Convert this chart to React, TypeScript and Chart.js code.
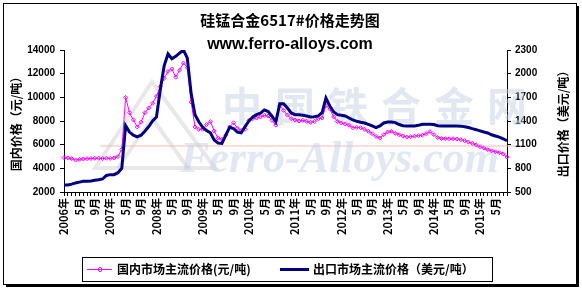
import React, { useEffect, useRef } from "react";
import { Chart, registerables } from "chart.js";

Chart.register(...registerables);

// Monthly categories: 2006-01 ... 2015-08
const START_YEAR = 2006;
const MONTH_COUNT = 116;
const categories: string[] = [];
for (let i = 0; i < MONTH_COUNT; i++) {
  const y = START_YEAR + Math.floor(i / 12);
  const m = (i % 12) + 1;
  categories.push(`${y}-${m < 10 ? "0" + m : m}`);
}

// Tick labels shown every 4 months
const tickLabels = [
  "2006年", "5月", "9月",
  "2007年", "5月", "9月",
  "2008年", "5月", "9月",
  "2009年", "5月", "9月",
  "2010年", "5月", "9月",
  "2011年", "5月", "9月",
  "2012年", "5月", "9月",
  "2013年", "5月", "9月",
  "2014年", "5月", "9月",
  "2015年", "5月",
];

// 国内市场主流价格 (元/吨)
const domesticPrice = [
  4900, 4880, 4820, 4700, 4760, 4800, 4820, 4830, 4850, 4860, 4820, 4860, 4840, 4880, 5000, 5600,
  10000, 8700, 8100, 7500, 7900, 8700, 9100, 9500, 10100, 10900, 11600, 12200, 12400, 11700, 12300, 12900, 12500, 9600, 7500, 7300,
  7300, 7700, 7950, 7150, 6550, 6450, 6800, 7500, 7850, 7400, 7200, 7300, 8050, 8200, 8250, 8350, 8480, 8420, 8050, 7650, 9300, 8900,
  8500, 8200, 8080, 8000, 8060, 7970, 7890, 7970, 8190, 8250, 9300, 9000, 8340, 7970, 7830, 7750, 7640, 7430, 7460, 7430, 7300, 7130, 6930, 6700, 6560, 6840, 7070, 7130,
  6950, 6840, 6720, 6640, 6680, 6720, 6760, 6800, 6930, 7100, 6850, 6600, 6520, 6500, 6500, 6500, 6480, 6420, 6340, 6220, 6100, 5980, 5830, 5700, 5580, 5480, 5400, 5320, 5220, 4950,
];

// 出口市场主流价格 (美元/吨)
const exportPrice = [
  590, 590, 600, 615, 625, 635, 635, 640, 648, 655, 665, 710, 720, 720, 745, 800,
  1340, 1260, 1220, 1200, 1220, 1270, 1330, 1400, 1450, 1800, 2100, 2250, 2190, 2220, 2260, 2300, 2200, 1750, 1480, 1390,
  1320, 1280, 1250, 1160, 1120, 1115, 1220, 1320, 1305, 1260, 1250, 1330, 1400, 1450, 1480, 1500, 1540, 1520, 1460, 1390, 1620, 1620,
  1565, 1502, 1480, 1480, 1472, 1464, 1450, 1455, 1464, 1506, 1690, 1590, 1514, 1480, 1472, 1464, 1438, 1413, 1396, 1384, 1375, 1358, 1337, 1315, 1337, 1375, 1388, 1388,
  1380, 1355, 1340, 1337, 1337, 1337, 1345, 1358, 1360, 1360, 1355, 1340, 1337, 1337, 1337, 1337, 1337, 1335, 1328, 1318, 1303, 1290, 1275, 1260, 1248, 1225, 1210, 1195, 1175, 1150,
];

const leftTicks = [2000, 4000, 6000, 8000, 10000, 12000, 14000];
const rightTicks = [500, 800, 1100, 1400, 1700, 2000, 2300];

const TITLE = "硅锰合金6517#价格走势图";
const SUBTITLE = "www.ferro-alloys.com";
const LEFT_AXIS_TITLE = "国内价格（元/吨）";
const RIGHT_AXIS_TITLE = "出口价格（美元/吨）";
const SERIES_DOMESTIC = "国内市场主流价格(元/吨)";
const SERIES_EXPORT = "出口市场主流价格（美元/吨）";
const WATERMARK_CN = ["中", "国", "铁", "合", "金", "网"];
const WATERMARK_EN = "Ferro-Alloys.com";

const FONT = "'Liberation Sans', 'Noto Sans CJK SC', sans-serif";
const CJK = "'Noto Sans CJK SC', 'Liberation Sans', sans-serif";
const PINK = "#FF00FF";
const NAVY = "#000080";

const decor = {
  id: "decor",
  beforeDatasetsDraw(chart: any) {
    const ctx = chart.ctx as CanvasRenderingContext2D;
    ctx.save();
    // faint logo triangles
    ctx.strokeStyle = "rgba(190,190,190,0.35)";
    ctx.lineWidth = 4;
    ctx.beginPath();
    ctx.moveTo(95, 168);
    ctx.lineTo(152, 82);
    ctx.lineTo(215, 168);
    ctx.closePath();
    ctx.stroke();
    ctx.beginPath();
    ctx.moveTo(118, 168);
    ctx.lineTo(152, 118);
    ctx.lineTo(188, 168);
    ctx.stroke();
    // faint pink line
    ctx.strokeStyle = "rgba(240,180,170,0.45)";
    ctx.lineWidth = 2;
    ctx.beginPath();
    ctx.moveTo(100, 146);
    ctx.lineTo(515, 146);
    ctx.stroke();
    // chinese watermark
    ctx.fillStyle = "rgba(196,210,230,0.5)";
    ctx.font = `bold 40px ${CJK}`;
    ctx.textAlign = "center";
    ctx.textBaseline = "middle";
    WATERMARK_CN.forEach((c, k) => ctx.fillText(c, 242 + k * 53, 106));
    // english watermark
    ctx.font = "italic bold 44px 'Liberation Serif', serif";
    ctx.textAlign = "left";
    ctx.textBaseline = "alphabetic";
    ctx.fillStyle = "rgba(196,210,232,0.5)";
    ctx.fillText(WATERMARK_EN, 180, 172);
    ctx.restore();
  },
  afterDraw(chart: any) {
    const ctx = chart.ctx as CanvasRenderingContext2D;
    ctx.save();
    ctx.fillStyle = "#000";
    ctx.textAlign = "center";
    ctx.textBaseline = "middle";
    ctx.font = `bold 15px ${CJK}`;
    ctx.fillText(TITLE, 290, 20);
    ctx.font = `bold 16px ${FONT}`;
    ctx.fillText(SUBTITLE, 290, 45);

    // axis titles (rotated, reading bottom to top)
    ctx.font = `bold 12px ${CJK}`;
    ctx.save();
    ctx.translate(16, 121);
    ctx.rotate(-Math.PI / 2);
    ctx.fillText(LEFT_AXIS_TITLE, 0, 0);
    ctx.restore();
    ctx.save();
    ctx.translate(563, 121);
    ctx.rotate(-Math.PI / 2);
    ctx.fillText(RIGHT_AXIS_TITLE, 0, 0);
    ctx.restore();

    // legend
    ctx.strokeStyle = "#000";
    ctx.lineWidth = 1;
    ctx.strokeRect(82.5, 257.5, 410, 24);
    ctx.strokeStyle = PINK;
    ctx.beginPath();
    ctx.moveTo(87, 269.5);
    ctx.lineTo(112, 269.5);
    ctx.stroke();
    ctx.beginPath();
    ctx.moveTo(100, 267);
    ctx.lineTo(102.5, 269.5);
    ctx.lineTo(100, 272);
    ctx.lineTo(97.5, 269.5);
    ctx.closePath();
    ctx.stroke();
    ctx.strokeStyle = NAVY;
    ctx.lineWidth = 3;
    ctx.beginPath();
    ctx.moveTo(280, 269.5);
    ctx.lineTo(309, 269.5);
    ctx.stroke();
    ctx.fillStyle = "#000";
    ctx.font = `bold 12px ${CJK}`;
    ctx.textAlign = "left";
    ctx.fillText(SERIES_DOMESTIC, 117, 269.5);
    ctx.fillText(SERIES_EXPORT, 313, 269.5);

    // outer frame with shadow
    ctx.lineWidth = 1;
    ctx.strokeStyle = "#000";
    ctx.strokeRect(3.5, 3.5, 573, 281);
    ctx.fillStyle = "#000";
    ctx.fillRect(577, 6, 2, 281);
    ctx.fillRect(6, 285, 573, 2);
    ctx.restore();
  },
};

export default function App() {
  const ref = useRef<HTMLCanvasElement | null>(null);
  useEffect(() => {
    document.body.style.margin = "0";
    const canvas = ref.current!;
    const tickFont = { family: FONT, size: 10, weight: "bold" as const };
    const chart = new Chart(canvas, {
      type: "line",
      data: {
        labels: categories,
        datasets: [
          {
            label: SERIES_EXPORT,
            data: exportPrice,
            yAxisID: "y1",
            borderColor: NAVY,
            borderWidth: 3,
            pointRadius: 0,
            tension: 0,
            order: 0,
          },
          {
            label: SERIES_DOMESTIC,
            data: domesticPrice,
            yAxisID: "y",
            borderColor: PINK,
            borderWidth: 1,
            pointStyle: "rectRot",
            pointRadius: 2,
            pointBorderWidth: 1,
            pointBorderColor: PINK,
            pointBackgroundColor: "rgba(0,0,0,0)",
            tension: 0,
            order: 1,
          },
        ],
      },
      options: {
        responsive: false,
        animation: false,
        events: [],
        layout: { padding: { top: 50, left: 0, right: 0, bottom: 0 } },
        plugins: { legend: { display: false }, title: { display: false }, tooltip: { enabled: false } },
        scales: {
          x: {
            type: "category",
            offset: false,
            border: { display: true, color: "#000", width: 1 },
            grid: { display: true, drawOnChartArea: false, drawTicks: true, tickLength: 4, color: "#000" },
            ticks: {
              autoSkip: false,
              maxRotation: 90,
              minRotation: 90,
              padding: 2,
              color: "#000",
              font: { family: CJK, size: 11, weight: "bold" },
              callback: (_v: any, i: number) => (i % 4 === 0 ? tickLabels[i / 4] ?? "" : ""),
            },
            afterFit: (s: any) => {
              s.height = 100;
            },
          },
          y: {
            position: "left",
            min: leftTicks[0],
            max: leftTicks[leftTicks.length - 1],
            border: { display: true, color: "#000", width: 1 },
            grid: { display: true, drawOnChartArea: false, tickLength: 4, color: "#000" },
            afterBuildTicks: (s: any) => {
              s.ticks = leftTicks.map((v) => ({ value: v }));
            },
            ticks: { color: "#000", font: tickFont, padding: 5, callback: (v: any) => String(v) },
            afterFit: (s: any) => {
              s.width = 64;
            },
          },
          y1: {
            position: "right",
            min: rightTicks[0],
            max: rightTicks[rightTicks.length - 1],
            border: { display: true, color: "#000", width: 1 },
            grid: { display: true, drawOnChartArea: false, tickLength: 4, color: "#000" },
            afterBuildTicks: (s: any) => {
              s.ticks = rightTicks.map((v) => ({ value: v }));
            },
            ticks: { color: "#000", font: tickFont, padding: 4, callback: (v: any) => String(v) },
            afterFit: (s: any) => {
              s.width = 75;
            },
          },
        },
      },
      plugins: [decor],
    });
    return () => chart.destroy();
  }, []);
  return (
    <div style={{ width: 582, height: 292, background: "#fff" }}>
      <canvas ref={ref} width={582} height={292} style={{ display: "block" }} />
    </div>
  );
}
